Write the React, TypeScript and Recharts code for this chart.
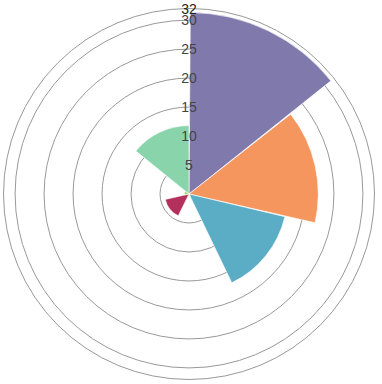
import React from 'react';
import { RadialBarChart, RadialBar, PolarAngleAxis, PolarRadiusAxis, PolarGrid, Cell } from 'recharts';

const categories = ['A', 'B', 'C', 'D', 'E', 'F', 'G'];
const values = [31.3, 22.3, 17.0, 0.5, 4.2, 0.8, 11.8];
const colors = ['#8079ab', '#f4965e', '#5aadc5', '#f0dc7a', '#b3305d', '#a7cf62', '#89d4ab'];
const radiusTicks = [0, 5, 10, 15, 20, 25, 30, 32];

const data = categories.map((name, i) => ({ name, value: values[i] }));
const step = 360 / categories.length;

const RadiusTick = (props: any) => {
  const { x, y, payload } = props;
  if (payload.value === 0) return null;
  return (
    <text x={x} y={y} textAnchor="middle" dominantBaseline="central" fontSize={14}
      fontFamily="Liberation Sans, Arial, sans-serif" fill={payload.value === 32 ? '#222' : '#444'}>
      {payload.value}
    </text>
  );
};

export default function App() {
  return (
    <div style={{ position: 'absolute', left: 0, top: 0, background: '#fff' }}>
      <RadialBarChart width={382} height={384} data={data} layout="centric" cx={189} cy={194}
        innerRadius={0} outerRadius={185.5} startAngle={90 - step} endAngle={-270 - step}
        barCategoryGap={0} barGap={0} margin={{ top: 0, right: 0, bottom: 0, left: 0 }}>
        <PolarGrid gridType="circle" radialLines={false} stroke="#999" strokeWidth={1} />
        <PolarAngleAxis type="category" dataKey="name" tick={false} axisLine={false} tickLine={false} />
        <PolarRadiusAxis type="number" domain={[0, 32]} ticks={radiusTicks} angle={90}
          axisLine={false} tickLine={false} tick={<RadiusTick />} />
        <RadialBar dataKey="value" isAnimationActive={false} stroke="#fff" strokeWidth={0.6}>
          {data.map((d, i) => <Cell key={d.name} fill={colors[i]} />)}
        </RadialBar>
      </RadialBarChart>
    </div>
  );
}
